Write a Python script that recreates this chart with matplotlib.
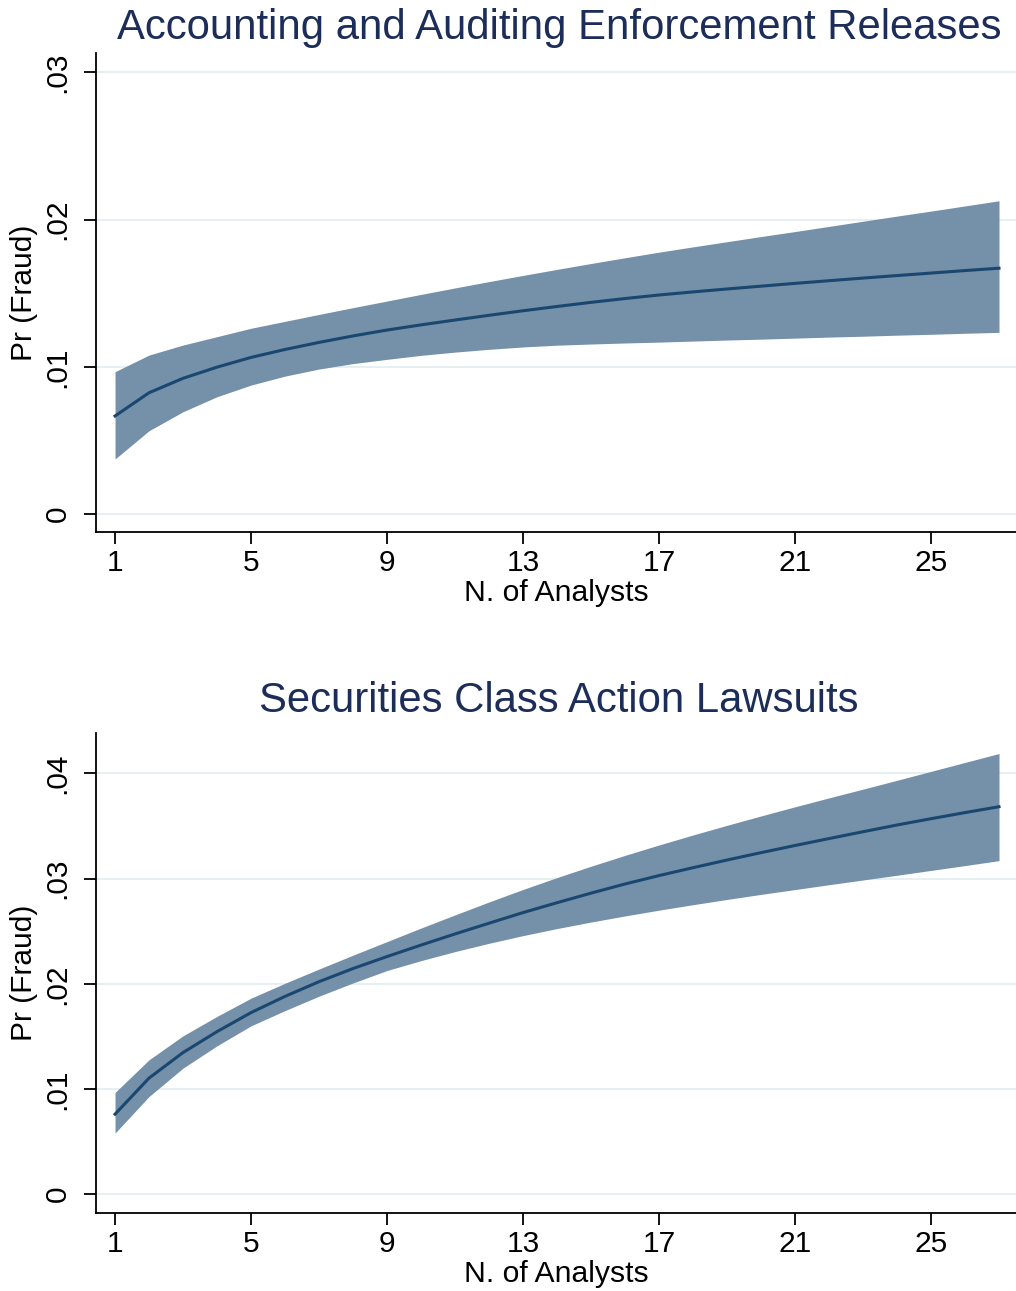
import numpy as np
import matplotlib
matplotlib.use('Agg')
import matplotlib.pyplot as plt

plt.rcParams['font.family'] = ['Liberation Sans', 'DejaVu Sans']

# numero de analistas (eixo x)
analysts = np.arange(1, 28)

# AAER: probabilidade prevista e intervalo de confianca
aaer_mean = [0.00666, 0.00824, 0.00922, 0.00998, 0.01064, 0.01118, 0.01166, 0.01210, 0.01250,
             0.01285, 0.01318, 0.01350, 0.01381, 0.01410, 0.01438, 0.01464, 0.01488, 0.01509,
             0.01529, 0.01548, 0.01567, 0.01585, 0.01603, 0.01620, 0.01637, 0.01654, 0.01670]
aaer_upper = [0.00967, 0.01080, 0.01148, 0.01205, 0.01262, 0.01309, 0.01356, 0.01402, 0.01447,
              0.01492, 0.01536, 0.01579, 0.01621, 0.01662, 0.01702, 0.01741, 0.01779, 0.01815,
              0.01850, 0.01885, 0.01919, 0.01954, 0.01989, 0.02024, 0.02058, 0.02093, 0.02128]
aaer_lower = [0.00374, 0.00566, 0.00695, 0.00797, 0.00876, 0.00937, 0.00985, 0.01022, 0.01051,
              0.01078, 0.01100, 0.01119, 0.01135, 0.01147, 0.01155, 0.01162, 0.01168, 0.01175,
              0.01182, 0.01188, 0.01195, 0.01202, 0.01208, 0.01215, 0.01221, 0.01228, 0.01234]

# Class action: probabilidade prevista e intervalo de confianca
sca_mean = [0.00760, 0.01103, 0.01346, 0.01545, 0.01726, 0.01880, 0.02020, 0.02145, 0.02259,
            0.02368, 0.02474, 0.02576, 0.02677, 0.02771, 0.02862, 0.02949, 0.03029, 0.03104,
            0.03177, 0.03247, 0.03315, 0.03381, 0.03446, 0.03510, 0.03570, 0.03628, 0.03684]
sca_upper = [0.00966, 0.01277, 0.01505, 0.01690, 0.01863, 0.02005, 0.02140, 0.02272, 0.02401,
             0.02530, 0.02655, 0.02778, 0.02897, 0.03010, 0.03118, 0.03221, 0.03320, 0.03415,
             0.03507, 0.03596, 0.03683, 0.03768, 0.03851, 0.03935, 0.04020, 0.04105, 0.04190]
sca_lower = [0.00580, 0.00928, 0.01198, 0.01410, 0.01600, 0.01745, 0.01882, 0.02008, 0.02126,
             0.02220, 0.02306, 0.02385, 0.02458, 0.02525, 0.02587, 0.02645, 0.02700, 0.02752,
             0.02802, 0.02850, 0.02896, 0.02942, 0.02987, 0.03032, 0.03078, 0.03124, 0.03171]

x_ticks = [1, 5, 9, 13, 17, 21, 25]
aaer_yticks = [0, 0.01, 0.02, 0.03]
aaer_ylabels = ['0', '.01', '.02', '.03']
sca_yticks = [0, 0.01, 0.02, 0.03, 0.04]
sca_ylabels = ['0', '.01', '.02', '.03', '.04']

W, H = 1016, 1291
fig = plt.figure(figsize=(W / 100, H / 100), dpi=100)
fig.patch.set_facecolor('white')

title_cor = '#1c2d5a'
linha_cor = '#1a476f'
faixa_cor = '#7590a9'
grade_cor = '#e6eff1'


def painel(ax, media, sup, inf, yticks, ylabels, ylim, titulo, titulo_y):
    ax.fill_between(analysts, inf, sup, color=faixa_cor, linewidth=0, zorder=2)
    ax.plot(analysts, media, color=linha_cor, linewidth=2.2, zorder=3)
    for v in yticks:
        ax.axhline(v, color=grade_cor, linewidth=1.4, zorder=1)
    ax.set_xlim(0.44, 27.5)
    ax.set_ylim(*ylim)
    ax.set_xticks(x_ticks)
    ax.set_yticks(yticks)
    ax.set_yticklabels(ylabels, rotation=90, va='center')
    ax.tick_params(axis='both', labelsize=21.5, length=8.5, width=1.3, colors='black')
    ax.tick_params(axis='x', pad=4)
    ax.tick_params(axis='y', pad=9)
    for s in ['top', 'right']:
        ax.spines[s].set_visible(False)
    for s in ['left', 'bottom']:
        ax.spines[s].set_linewidth(1.3)
    ax.set_xlabel('N. of Analysts', fontsize=21.7, labelpad=1)
    ax.set_ylabel('Pr (Fraud)', fontsize=21.5)
    ax.yaxis.set_label_coords(-0.063, 0.5)
    fig.text(559 / W, 1 - titulo_y / H, titulo, fontsize=30.2, color=title_cor,
             ha='center', va='baseline')


ax1 = fig.add_axes([96 / W, (H - 532) / H, 920 / W, 479 / H])
painel(ax1, aaer_mean, aaer_upper, aaer_lower, aaer_yticks, aaer_ylabels,
       (-0.00122, 0.03132), 'Accounting and Auditing Enforcement Releases', 39)

ax2 = fig.add_axes([96 / W, (H - 1213) / H, 920 / W, 480 / H])
painel(ax2, sca_mean, sca_upper, sca_lower, sca_yticks, sca_ylabels,
       (-0.0018, 0.04385), 'Securities Class Action Lawsuits', 712)

fig.savefig('out.png', dpi=100, facecolor='white')
